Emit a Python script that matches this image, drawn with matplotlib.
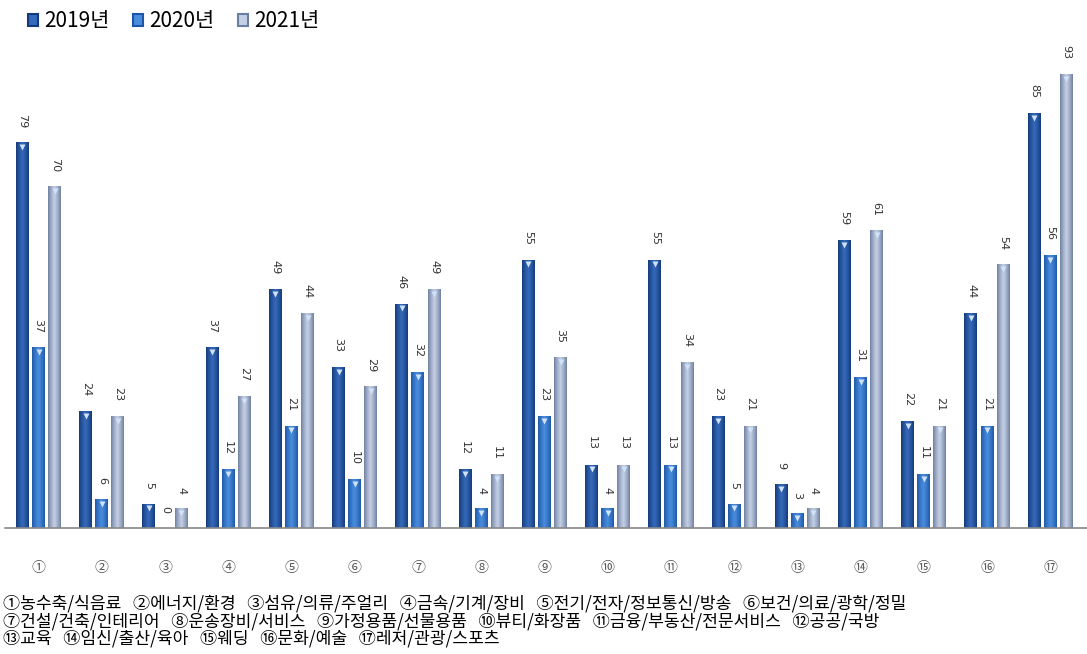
import numpy as np
import matplotlib
matplotlib.use("Agg")
import matplotlib.pyplot as plt
from matplotlib.colors import LinearSegmentedColormap
from matplotlib.patches import Rectangle

plt.rcParams['font.family'] = ['Noto Sans CJK KR', 'DejaVu Sans']

groups = ['①', '②', '③', '④', '⑤', '⑥', '⑦', '⑧', '⑨', '⑩',
          '⑪', '⑫', '⑬', '⑭', '⑮', '⑯', '⑰']
years = ['2019년', '2020년', '2021년']
v2019 = [79, 24, 5, 37, 49, 33, 46, 12, 55, 13, 55, 23, 9, 59, 22, 44, 85]
v2020 = [37, 6, 0, 12, 21, 10, 32, 4, 23, 4, 13, 5, 3, 31, 11, 21, 56]
v2021 = [70, 23, 4, 27, 44, 29, 49, 11, 35, 13, 34, 21, 4, 61, 21, 54, 93]

notes = [
    '①농수축/식음료   ②에너지/환경   ③섬유/의류/주얼리   ④금속/기계/장비   ⑤전기/전자/정보통신/방송   ⑥보건/의료/광학/정밀',
    '⑦건설/건축/인테리어   ⑧운송장비/서비스   ⑨가정용품/선물용품   ⑩뷰티/화장품   ⑪금융/부동산/전문서비스   ⑫공공/국방',
    '⑬교육   ⑭임신/출산/육아   ⑮웨딩   ⑯문화/예술   ⑰레저/관광/스포츠',
]

# edge colour, centre colour for each series (cylinder-like shading)
shades = [('#143a78', '#3569bb'), ('#1c56a8', '#4a8ddc'), ('#6c7d9f', '#c3cfe4')]

fig = plt.figure(figsize=(10.87, 6.54), dpi=100)
ax = fig.add_axes([5 / 1087, 1 - 528 / 654, 1 - 5 / 1087, 488 / 654])

x = np.arange(1, len(groups) + 1)
width = 0.205
offsets = [-0.255, 0, 0.255]
grad = np.concatenate([np.linspace(0, 1, 32), np.linspace(1, 0, 32)]) ** 0.8
grad = np.tile(grad, (2, 1))

for vals, off, (c_edge, c_mid) in zip([v2019, v2020, v2021], offsets, shades):
    cmap = LinearSegmentedColormap.from_list('s', [c_edge, c_mid])
    bars = ax.bar(x + off, vals, width, color=c_mid, linewidth=0, zorder=1)
    for b, v in zip(bars, vals):
        x0 = b.get_x()
        if v > 0:
            im = ax.imshow(grad, cmap=cmap, aspect='auto', zorder=2,
                           extent=[x0, x0 + width, 0, v], interpolation='bilinear')
            im.set_clip_path(b)
            # light cap at the top of the bar
            ax.plot(x0 + width / 2, v - 1.0, marker='v', ms=5, color='#cfe2f7',
                    mec='none', zorder=3)
        ax.text(x0 + width / 2, v + 3.0, str(v), rotation=-90, ha='center',
                va='bottom', fontsize=8, color='#333333',
                family=['DejaVu Sans'])

ax.set_xlim(0.47, 17.58)
ax.set_ylim(0, 100)
ax.set_xticks(x)
ax.set_xticklabels(groups, fontsize=10, color='#555555')
ax.tick_params(axis='x', length=0, pad=24)
ax.set_yticks([])
for s in ['top', 'right', 'left']:
    ax.spines[s].set_visible(False)
ax.spines['bottom'].set_color('#888888')
ax.spines['bottom'].set_linewidth(1.2)

# legend
handles = []
for c_edge, c_mid in shades:
    handles.append(Rectangle((0, 0), 1, 1, facecolor=c_mid, edgecolor=c_edge, linewidth=1.5))
fig.legend(handles, years, loc='center left', bbox_to_anchor=(28 / 1087, 1 - 21 / 654),
           ncol=3, frameon=False, fontsize=15, handlelength=0.5,
           handleheight=0.5, handletextpad=0.3, columnspacing=1.1,
           borderaxespad=0, borderpad=0)

# category legend under the chart, one text block
fig.text(3 / 1087, 1 - 621 / 654, '\n'.join(notes), fontsize=12.3, va='center',
         ha='left', color='black', linespacing=0.97)

fig.savefig('out.png', dpi=100)
